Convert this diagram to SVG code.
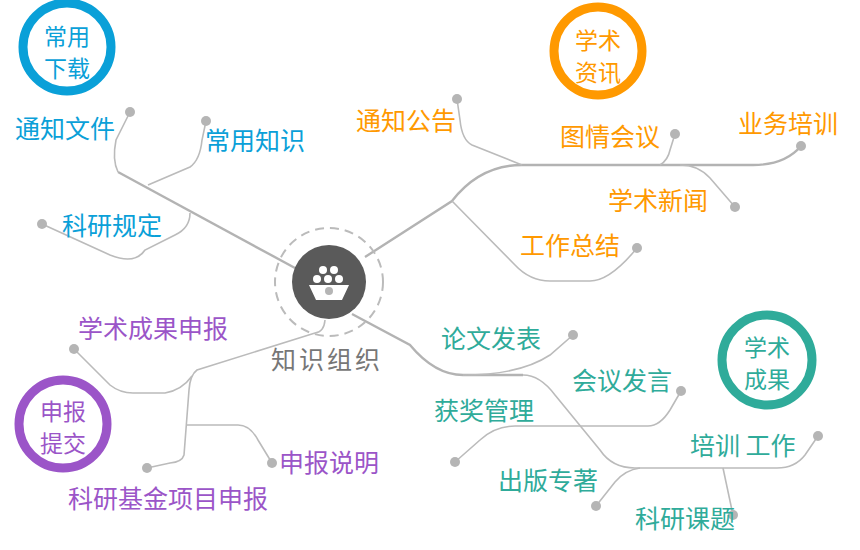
<svg xmlns="http://www.w3.org/2000/svg" width="860" height="550" viewBox="0 0 860 550">
<style>
text{font-family:"Noto Sans CJK SC","Noto Sans",sans-serif;font-size:25px}
.r{font-size:23px}
.l{fill:none;stroke:#bbb;stroke-width:1.6}
.m{fill:none;stroke:#b3b3b3;stroke-width:2.4}
.d{fill:#b5b5b5}
.ring{fill:#fff;stroke-width:9}
.b{fill:#0aa0d8}.o{fill:#ff9900}.t{fill:#2fab9a}.p{fill:#9b55c8}
</style>
<rect width="860" height="550" fill="#fff"/>
<g id="connectors">
<path class="m" d="M295,268 L118,172"/>
<path class="l" d="M118,172 Q112,160 116,140 L130,112"/>
<path class="l" d="M148,185 L190,167 Q200,160 202,140 L206,121"/>
<path class="l" d="M190,213 Q190,228 175,235 L145,250 Q135,265 110,255 L42,224"/>
<path class="m" d="M365,257 L452,201 Q480,165 522,165 L753,165 Q785,165 801,146"/>
<path class="l" d="M522,165 L472,145 Q462,140 460,120 L457,99"/>
<path class="l" d="M660,165 Q668,160 670,150 L675,134"/>
<path class="l" d="M680,165 Q698,165 710,178 L735,207"/>
<path class="l" d="M452,201 L515,265 Q530,281 550,281 L590,281 Q610,281 637,248"/>
<path class="m" d="M352,314 L410,345 Q435,375 463,375 L523,375"/>
<path class="l" d="M463,375 Q520,375 550,355 L573,335"/>
<path class="l" d="M523,375 Q540,375 555,395 L600,450 Q612,468 635,468 L777,468 Q795,468 805,455 L818,436"/>
<path class="l" d="M455,462 L480,440 Q495,426 515,426 L648,426 Q660,426 670,410 L681,391"/>
<path class="l" d="M640,468 Q625,470 615,482 L596,506"/>
<path class="l" d="M723,468 L733,515"/>
<path class="l" d="M325,320 Q324,332 315,333 L197,370 Q190,375 189,390 L184,455 Q182,462 170,463 L147,468"/>
<path class="l" d="M192,376 Q182,390 165,393 L133,393 Q120,393 110,385 L74,349"/>
<path class="l" d="M187,425 L238,425 Q250,425 258,440 L272,463"/>
</g>
<g id="dots">
<circle class="d" cx="130" cy="112" r="5"/><circle class="d" cx="206" cy="121" r="5"/><circle class="d" cx="42" cy="224" r="5"/>
<circle class="d" cx="457" cy="99" r="5"/><circle class="d" cx="675" cy="134" r="5"/><circle class="d" cx="801" cy="146" r="5"/>
<circle class="d" cx="735" cy="207" r="5"/><circle class="d" cx="637" cy="248" r="5"/>
<circle class="d" cx="573" cy="335" r="5"/><circle class="d" cx="681" cy="391" r="5"/><circle class="d" cx="455" cy="462" r="5"/>
<circle class="d" cx="818" cy="436" r="5"/><circle class="d" cx="596" cy="506" r="5"/><circle class="d" cx="733" cy="515" r="5"/>
<circle class="d" cx="147" cy="468" r="5"/><circle class="d" cx="74" cy="349" r="5"/><circle class="d" cx="272" cy="463" r="5"/>
</g>
<g id="center">
<circle cx="329" cy="282" r="54" fill="none" stroke="#bbb" stroke-width="2" stroke-dasharray="9 6"/>
<circle cx="329" cy="282" r="37" fill="#5a5a5a"/>
<g fill="#fff">
<circle cx="323" cy="270" r="4"/><circle cx="334" cy="270" r="4"/>
<circle cx="317" cy="279" r="4"/><circle cx="328" cy="279" r="4"/><circle cx="339" cy="279" r="4"/>
<path d="M309,285 L349,285 L342,300 L316,300 Z"/>
</g>
<circle cx="329" cy="291" r="4" fill="#b5b5b5"/>
<text x="271" y="369" fill="#777" letter-spacing="3">知识组织</text>
</g>
<g id="cat-download">
<circle class="ring" cx="67" cy="47" r="44" stroke="#0aa0d8"/>
<text class="b r" x="67" y="45" text-anchor="middle">常用</text>
<text class="b r" x="67" y="77" text-anchor="middle">下载</text>
<text class="b" x="15" y="138">通知文件</text>
<text class="b" x="205" y="150">常用知识</text>
<text class="b" x="62" y="235">科研规定</text>
</g>
<g id="cat-news">
<circle class="ring" cx="598" cy="51" r="44" stroke="#ff9900"/>
<text class="o r" x="598" y="49" text-anchor="middle">学术</text>
<text class="o r" x="598" y="81" text-anchor="middle">资讯</text>
<text class="o" x="356" y="130">通知公告</text>
<text class="o" x="560" y="146">图情会议</text>
<text class="o" x="738" y="133">业务培训</text>
<text class="o" x="608" y="210">学术新闻</text>
<text class="o" x="520" y="255">工作总结</text>
</g>
<g id="cat-results">
<circle class="ring" cx="767" cy="360" r="45" stroke="#2fab9a"/>
<text class="t r" x="767" y="356" text-anchor="middle">学术</text>
<text class="t r" x="767" y="388" text-anchor="middle">成果</text>
<text class="t" x="441" y="348">论文发表</text>
<text class="t" x="572" y="390">会议发言</text>
<text class="t" x="434" y="420">获奖管理</text>
<text class="t" x="690" y="455">培训 工作</text>
<text class="t" x="498" y="490">出版专著</text>
<text class="t" x="635" y="528">科研课题</text>
</g>
<g id="cat-submit">
<circle class="ring" cx="63" cy="424" r="44" stroke="#9b55c8"/>
<text class="p r" x="63" y="420" text-anchor="middle">申报</text>
<text class="p r" x="63" y="452" text-anchor="middle">提交</text>
<text class="p" x="78" y="338">学术成果申报</text>
<text class="p" x="279" y="472">申报说明</text>
<text class="p" x="68" y="508">科研基金项目申报</text>
</g>
</svg>
